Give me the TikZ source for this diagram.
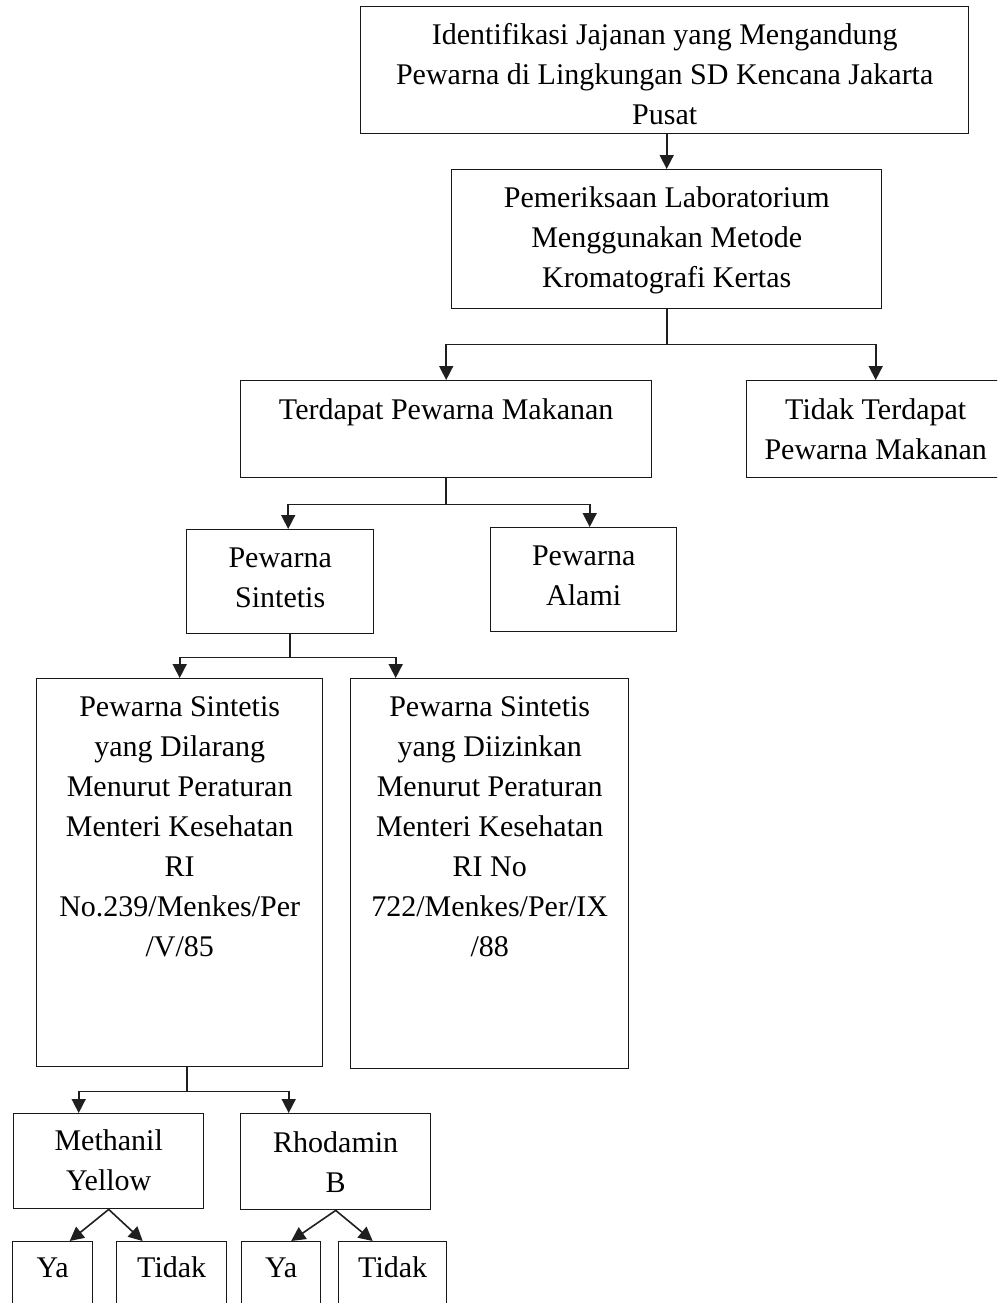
\documentclass[tikz,border=0pt]{standalone}
\usepackage{fontspec}
\setmainfont{Liberation Serif}
\usetikzlibrary{arrows.meta,calc}
\begin{document}
\begin{tikzpicture}[x=1pt,y=-1pt,
  box/.style={draw=black!90, line width=1.4pt, fill=white, inner sep=0pt, anchor=north west},
  txt/.style={anchor=north, inner sep=0pt, align=center, font=\fontsize{30}{40}\selectfont, yshift=-10pt},
  conn/.style={draw=black!88, line width=1.6pt},
  arr/.style={conn, -{Triangle[length=14pt,width=14pt]}}]
\clip (0,0) rectangle (997,1303);
\fill[white] (0,0) rectangle (997,1303);
% boxes
\node[box, minimum width=608pt, minimum height=127pt] (b1) at (360,6) {};
\node[box, minimum width=430pt, minimum height=139pt] (b2) at (451,169) {};
\node[box, minimum width=411pt, minimum height=97pt] (b3) at (240,380) {};
\node[box, minimum width=258pt, minimum height=97pt] (b4) at (746,380) {};
\node[box, minimum width=187pt, minimum height=104pt] (b5) at (186,529) {};
\node[box, minimum width=186pt, minimum height=104pt] (b6) at (490,527) {};
\node[box, minimum width=286pt, minimum height=388pt] (b7) at (36,678) {};
\node[box, minimum width=278pt, minimum height=390pt] (b8) at (350,678) {};
\node[box, minimum width=190pt, minimum height=95pt] (b9) at (13,1113) {};
\node[box, minimum width=190pt, minimum height=96pt] (b10) at (240,1113) {};
\node[box, minimum width=80pt, minimum height=100pt] (y1) at (12,1241) {};
\node[box, minimum width=110pt, minimum height=100pt] (t1) at (116,1241) {};
\node[box, minimum width=79pt, minimum height=100pt] (y2) at (241,1241) {};
\node[box, minimum width=108pt, minimum height=100pt] (t2) at (338,1241) {};
% texts
\node[txt] (l1) at (b1.north) {\strut Identifikasi Jajanan yang Mengandung\\Pewarna di Lingkungan SD Kencana Jakarta\\Pusat};
\node[txt] (l2) at (b2.north) {\strut Pemeriksaan Laboratorium\\Menggunakan Metode\\Kromatografi Kertas};
\node[txt, yshift=-1pt] (l3) at (b3.north) {\strut Terdapat Pewarna Makanan};
\node[txt, yshift=-1pt] (l4) at (b4.north) {\strut Tidak Terdapat\\Pewarna Makanan};
\node[txt] (l5) at (b5.north) {\strut Pewarna\\Sintetis};
\node[txt] (l6) at (b6.north) {\strut Pewarna\\Alami};
\node[txt] (l7) at (b7.north) {\strut Pewarna Sintetis\\yang Dilarang\\Menurut Peraturan\\Menteri Kesehatan\\RI\\No.239/Menkes/Per\\/V/85};
\node[txt] (l8) at (b8.north) {\strut Pewarna Sintetis\\yang Diizinkan\\Menurut Peraturan\\Menteri Kesehatan\\RI No\\722/Menkes/Per/IX\\/88};
\node[txt, yshift=1pt] (l9) at (b9.north) {\strut Methanil\\Yellow};
\node[txt, yshift=-1pt] (l10) at (b10.north) {\strut Rhodamin\\B};
\node[txt, yshift=2pt] (l11) at (y1.north) {\strut Ya};
\node[txt, yshift=2pt] (l12) at (t1.north) {\strut Tidak};
\node[txt, yshift=2pt] (l13) at (y2.north) {\strut Ya};
\node[txt, yshift=2pt] (l14) at (t2.north) {\strut Tidak};
% connectors
\draw[arr] (b2.north |- b1.south) -- (b2.north);
\draw[conn] (b2.south) -- ++(0,35) coordinate (j1);
\draw[arr] (j1) -| (b3.north);
\draw[arr] (j1) -| (b4.north);
\draw[conn] (b3.south) -- ++(0,26) coordinate (j2);
\draw[arr] (j2) -| ([xshift=8pt]b5.north);
\draw[arr] (j2) -| ([xshift=6pt]b6.north);
\draw[conn] ([xshift=10pt]b5.south) -- ++(0,23) coordinate (j3);
\draw[arr] (j3) -| (b7.north);
\draw[arr] (j3) -| ([xshift=-94pt]b8.north);
\draw[conn] ([xshift=7pt]b7.south) -- ++(0,24) coordinate (j4);
\draw[arr] (j4) -| ([xshift=-30pt]b9.north);
\draw[arr] (j4) -| ([xshift=-47pt]b10.north);
\draw[arr] (b9.south) -- ([xshift=17pt]y1.north);
\draw[arr] (b9.south) -- ([xshift=-29pt]t1.north);
\draw[arr] (b10.south) -- ([xshift=10pt]y2.north);
\draw[arr] (b10.south) -- ([xshift=-20pt]t2.north);
\end{tikzpicture}
\end{document}
